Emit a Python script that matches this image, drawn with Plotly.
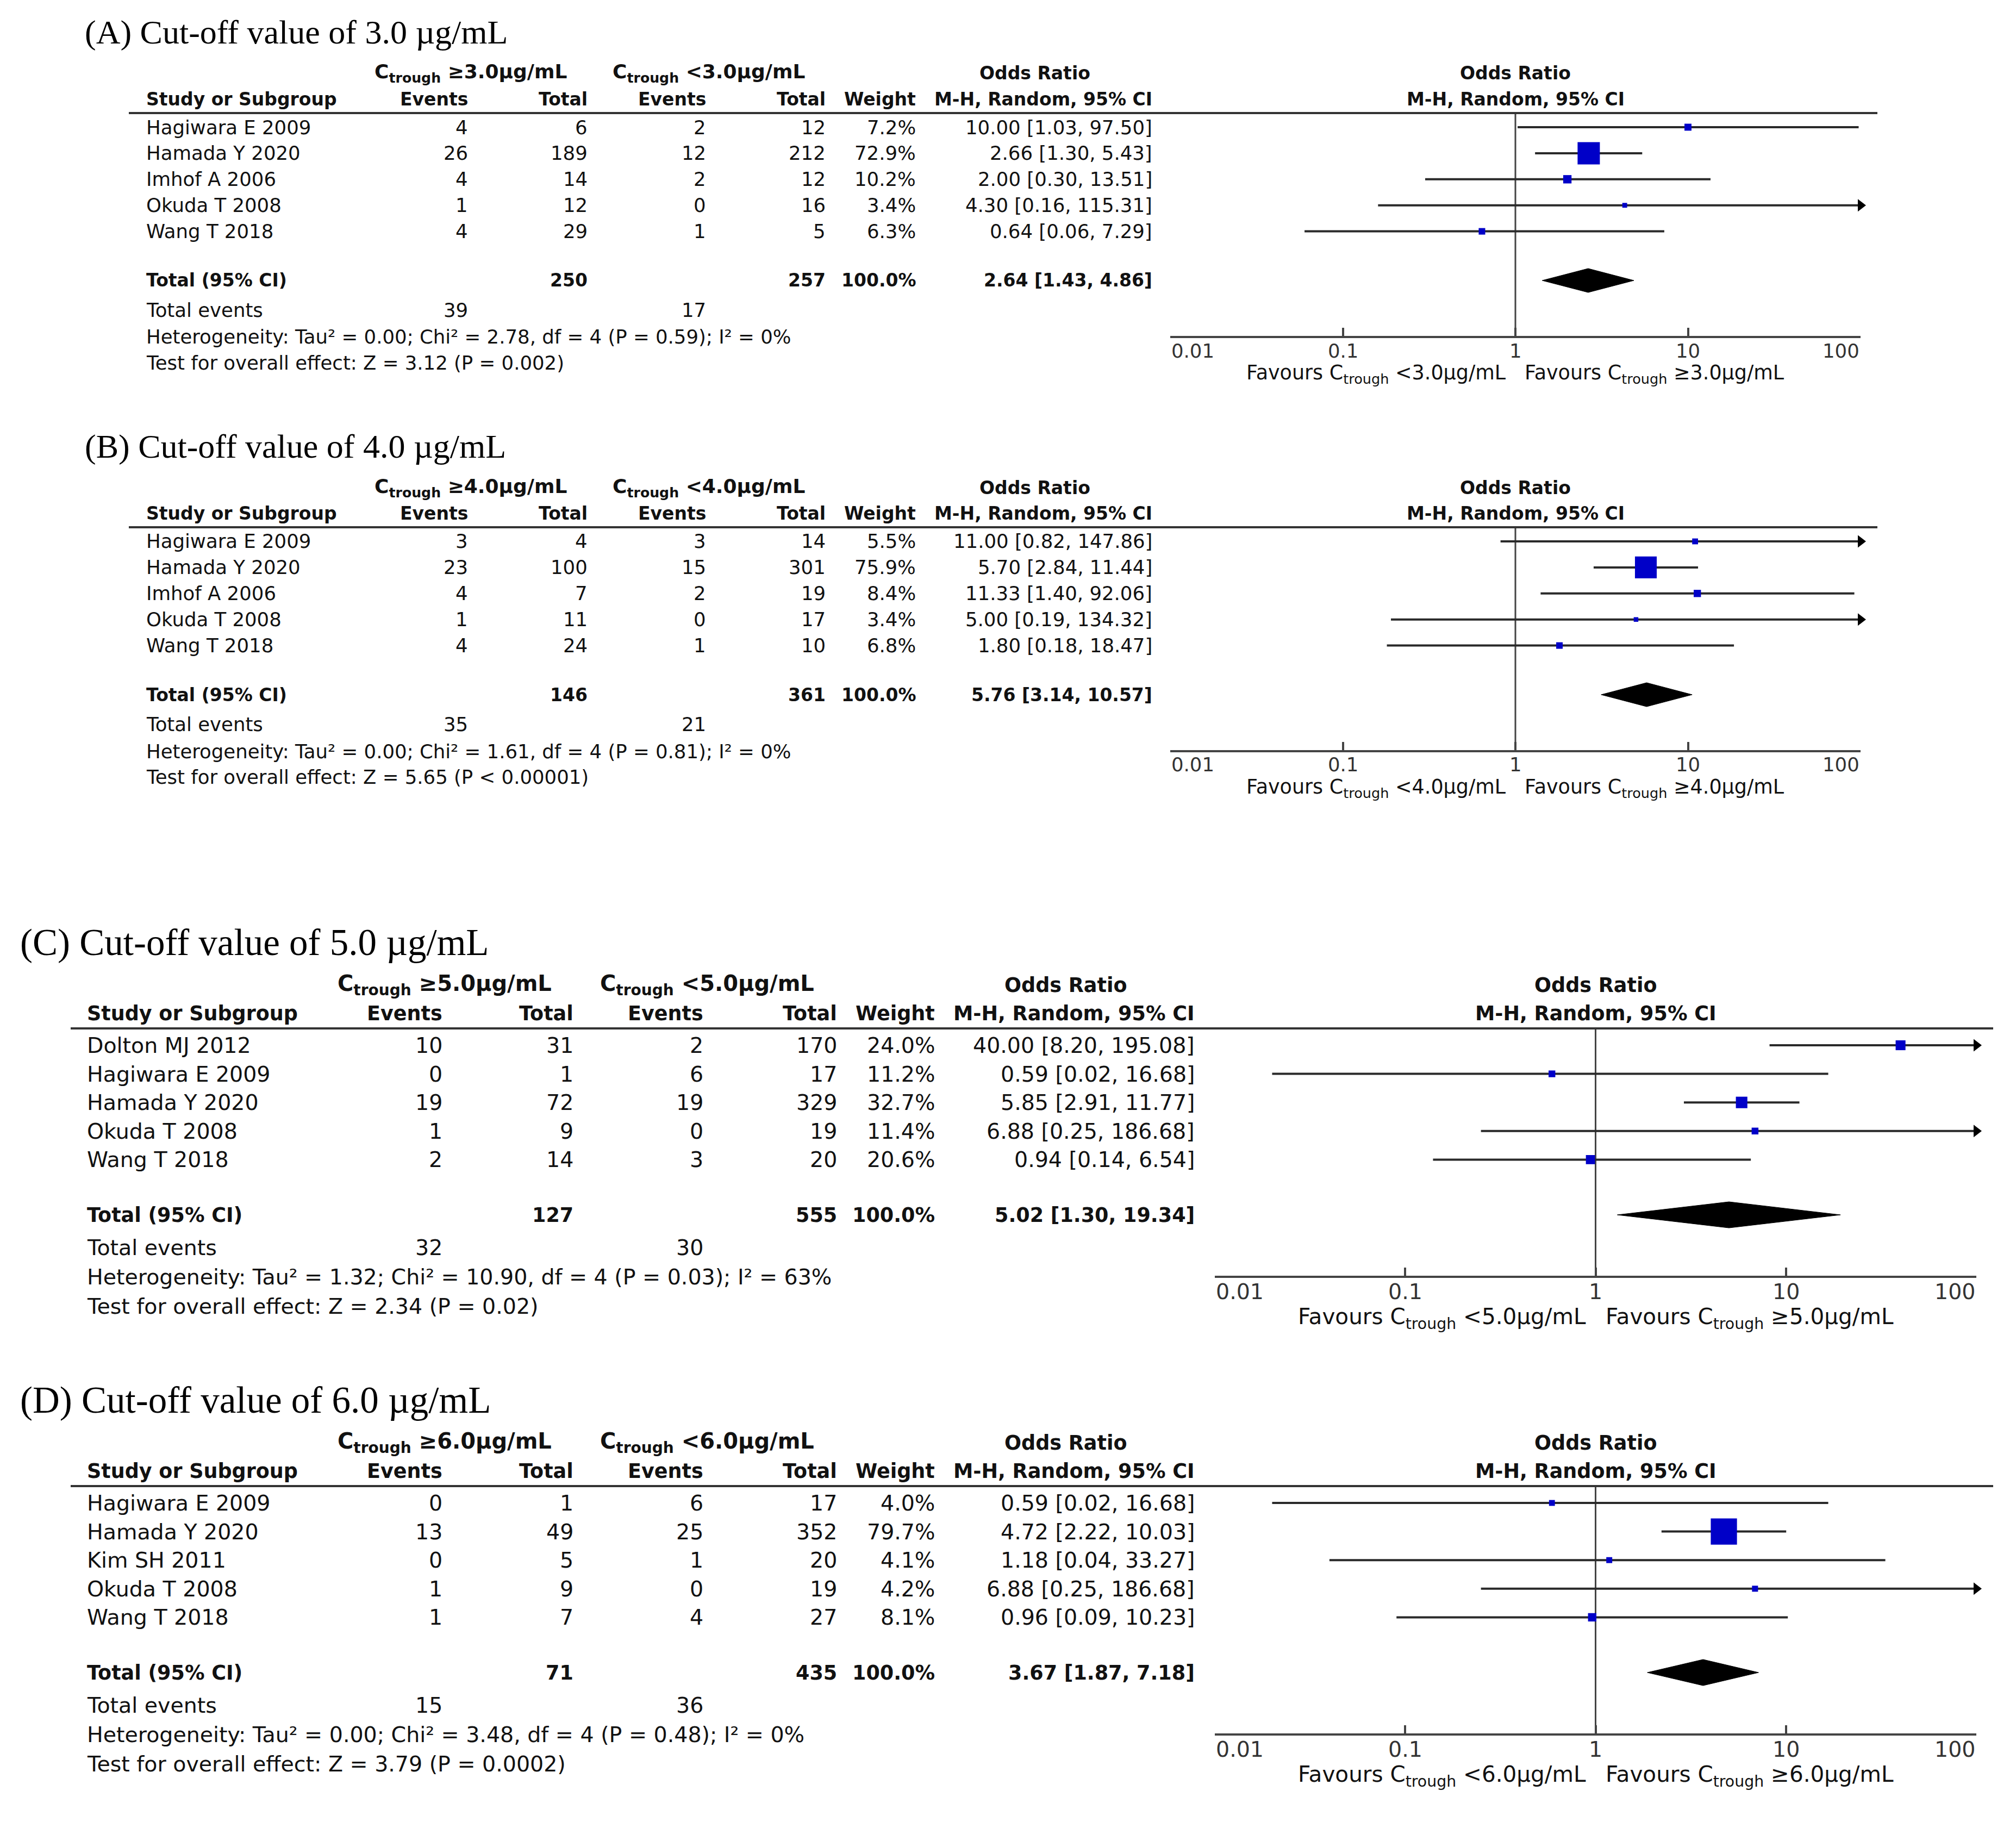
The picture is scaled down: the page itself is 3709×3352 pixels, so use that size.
import math
import plotly.graph_objects as go

# ---------------- data ----------------
panel_letters = ["A", "B", "C", "D"]
cutoffs = ["3.0", "4.0", "5.0", "6.0"]

# (A) cut-off 3.0
studies_A = ["Hagiwara E 2009", "Hamada Y 2020", "Imhof A 2006", "Okuda T 2008", "Wang T 2018"]
ev_hi_A = [4, 26, 4, 1, 4]
tot_hi_A = [6, 189, 14, 12, 29]
ev_lo_A = [2, 12, 2, 0, 1]
tot_lo_A = [12, 212, 12, 16, 5]
weight_A = [7.2, 72.9, 10.2, 3.4, 6.3]
or_A = [10.00, 2.66, 2.00, 4.30, 0.64]
lo_A = [1.03, 1.30, 0.30, 0.16, 0.06]
hi_A = [97.50, 5.43, 13.51, 115.31, 7.29]
total_A = [2.64, 1.43, 4.86]          # OR, lower, upper
total_n_A = [250, 257]
total_ev_A = [39, 17]
het_A = "Heterogeneity: Tau² = 0.00; Chi² = 2.78, df = 4 (P = 0.59); I² = 0%"
test_A = "Test for overall effect: Z = 3.12 (P = 0.002)"

# (B) cut-off 4.0
studies_B = ["Hagiwara E 2009", "Hamada Y 2020", "Imhof A 2006", "Okuda T 2008", "Wang T 2018"]
ev_hi_B = [3, 23, 4, 1, 4]
tot_hi_B = [4, 100, 7, 11, 24]
ev_lo_B = [3, 15, 2, 0, 1]
tot_lo_B = [14, 301, 19, 17, 10]
weight_B = [5.5, 75.9, 8.4, 3.4, 6.8]
or_B = [11.00, 5.70, 11.33, 5.00, 1.80]
lo_B = [0.82, 2.84, 1.40, 0.19, 0.18]
hi_B = [147.86, 11.44, 92.06, 134.32, 18.47]
total_B = [5.76, 3.14, 10.57]
total_n_B = [146, 361]
total_ev_B = [35, 21]
het_B = "Heterogeneity: Tau² = 0.00; Chi² = 1.61, df = 4 (P = 0.81); I² = 0%"
test_B = "Test for overall effect: Z = 5.65 (P &lt; 0.00001)"

# (C) cut-off 5.0
studies_C = ["Dolton MJ 2012", "Hagiwara E 2009", "Hamada Y 2020", "Okuda T 2008", "Wang T 2018"]
ev_hi_C = [10, 0, 19, 1, 2]
tot_hi_C = [31, 1, 72, 9, 14]
ev_lo_C = [2, 6, 19, 0, 3]
tot_lo_C = [170, 17, 329, 19, 20]
weight_C = [24.0, 11.2, 32.7, 11.4, 20.6]
or_C = [40.00, 0.59, 5.85, 6.88, 0.94]
lo_C = [8.20, 0.02, 2.91, 0.25, 0.14]
hi_C = [195.08, 16.68, 11.77, 186.68, 6.54]
total_C = [5.02, 1.30, 19.34]
total_n_C = [127, 555]
total_ev_C = [32, 30]
het_C = "Heterogeneity: Tau² = 1.32; Chi² = 10.90, df = 4 (P = 0.03); I² = 63%"
test_C = "Test for overall effect: Z = 2.34 (P = 0.02)"

# (D) cut-off 6.0
studies_D = ["Hagiwara E 2009", "Hamada Y 2020", "Kim SH 2011", "Okuda T 2008", "Wang T 2018"]
ev_hi_D = [0, 13, 0, 1, 1]
tot_hi_D = [1, 49, 5, 9, 7]
ev_lo_D = [6, 25, 1, 0, 4]
tot_lo_D = [17, 352, 20, 19, 27]
weight_D = [4.0, 79.7, 4.1, 4.2, 8.1]
or_D = [0.59, 4.72, 1.18, 6.88, 0.96]
lo_D = [0.02, 2.22, 0.04, 0.25, 0.09]
hi_D = [16.68, 10.03, 33.27, 186.68, 10.23]
total_D = [3.67, 1.87, 7.18]
total_n_D = [71, 435]
total_ev_D = [15, 36]
het_D = "Heterogeneity: Tau² = 0.00; Chi² = 3.48, df = 4 (P = 0.48); I² = 0%"
test_D = "Test for overall effect: Z = 3.79 (P = 0.0002)"

axis_ticks = [0.01, 0.1, 1, 10, 100]
axis_ticktext = ["0.01", "0.1", "1", "10", "100"]

# ---------------- layout / style ----------------
W, H = 3709, 3352
OFF = 8
WF, HF = W - 2 * OFF, H - 2 * OFF
FONT = "DejaVu Sans"
SERIF = "Liberation Serif"
TXT = "#111111"
BLUE = "#0000C8"
LINE = "#2a2a2a"


def shift(d, dy, **kw):
    out = dict(d)
    for k in ["title_y", "h1", "h2", "rule_y", "row0", "tot_y", "tev_y", "het_y", "test_y",
              "axis_y", "tick_y", "fav_y"]:
        out[k] = d[k] + dy
    out.update(kw)
    return out


LAY_A = dict(title_x=154, title_y=59, h1=135, h2=182, rule_y=208, rule_x0=237, rule_x1=3454,
             row0=234, step=47.9, tot_y=516, tev_y=570, het_y=620, test_y=667,
             c_study=267, c_ev1=863, c_tot1=1083, c_ev2=1301, c_tot2=1521, c_wt=1687, c_ci=2122,
             g1=866, g2=1304, orh=1904, fx0=2153, fx1=3423, axis_y=618, tick_y=645, fav_y=688,
             fav_gap=15, fs=35.5, bfs=33, hfs=36, ffs=36.5, tfs=62, sq=4.8, dh=22)
LAY_B = shift(LAY_A, 762, sq=4.6)
LAY_C = dict(title_x=35, title_y=1734, h1=1812, h2=1864, rule_y=1892, rule_x0=130, rule_x1=3667,
             row0=1923, step=52.6, tot_y=2235, tev_y=2295, het_y=2349, test_y=2403,
             c_study=158, c_ev1=816, c_tot1=1057, c_ev2=1296, c_tot2=1542, c_wt=1722, c_ci=2200,
             g1=818, g2=1301, orh=1961, fx0=2235, fx1=3636, axis_y=2347, tick_y=2376, fav_y=2425,
             fav_gap=16, fs=39.5, bfs=36.5, hfs=40, ffs=40.5, tfs=69, sq=3.7, dh=24)
LAY_D = shift(LAY_C, 842, sq=5.4)

panels = [
    (studies_A, ev_hi_A, tot_hi_A, ev_lo_A, tot_lo_A, weight_A, or_A, lo_A, hi_A, total_A, total_n_A, total_ev_A, het_A, test_A, LAY_A),
    (studies_B, ev_hi_B, tot_hi_B, ev_lo_B, tot_lo_B, weight_B, or_B, lo_B, hi_B, total_B, total_n_B, total_ev_B, het_B, test_B, LAY_B),
    (studies_C, ev_hi_C, tot_hi_C, ev_lo_C, tot_lo_C, weight_C, or_C, lo_C, hi_C, total_C, total_n_C, total_ev_C, het_C, test_C, LAY_C),
    (studies_D, ev_hi_D, tot_hi_D, ev_lo_D, tot_lo_D, weight_D, or_D, lo_D, hi_D, total_D, total_n_D, total_ev_D, het_D, test_D, LAY_D),
]


def fx(x):
    return (x - OFF) / WF


def fy(y):
    return 1 - (y - OFF) / HF


def ann(x, y, text, anchor="left", size=32, bold=False, family=FONT, color=TXT):
    return dict(x=fx(x), y=fy(y), xref="paper", yref="paper",
                text=f"<b>{text}</b>" if bold else text, showarrow=False,
                xanchor=anchor, yanchor="middle",
                font=dict(family=family, size=size, color=color))


fig = go.Figure()
annotations = []
shapes = []
layout_axes = {}

for k, (stud, eh, th, el, tl, wt, orv, lo, hi, tot, totn, totev, het, test, L) in enumerate(panels):
    n = k + 1
    xa = "x" if n == 1 else f"x{n}"
    ya = "y" if n == 1 else f"y{n}"
    fs, bfs, hfs, ffs = L["fs"], L["bfs"], L["hfs"], L["ffs"]
    cut = cutoffs[k]
    rows = [L["row0"] + i * L["step"] for i in range(len(stud))]

    # title
    annotations.append(ann(L["title_x"], L["title_y"],
                           f"({panel_letters[k]}) Cut-off value of {cut} µg/mL",
                           "left", L["tfs"], False, SERIF, "#000"))
    # headers
    annotations.append(ann(L["g1"], L["h1"], f"C<sub>trough</sub> ≥{cut}µg/mL", "center", hfs, True))
    annotations.append(ann(L["g2"], L["h1"], f"C<sub>trough</sub> &lt;{cut}µg/mL", "center", hfs, True))
    annotations.append(ann(L["orh"], L["h1"], "Odds Ratio", "center", bfs, True))
    fc = (L["fx0"] + L["fx1"]) / 2
    annotations.append(ann(fc, L["h1"], "Odds Ratio", "center", bfs, True))
    annotations.append(ann(fc, L["h2"], "M-H, Random, 95% CI", "center", bfs, True))
    annotations.append(ann(L["c_study"], L["h2"], "Study or Subgroup", "left", bfs, True))
    annotations.append(ann(L["c_ev1"], L["h2"], "Events", "right", bfs, True))
    annotations.append(ann(L["c_tot1"], L["h2"], "Total", "right", bfs, True))
    annotations.append(ann(L["c_ev2"], L["h2"], "Events", "right", bfs, True))
    annotations.append(ann(L["c_tot2"], L["h2"], "Total", "right", bfs, True))
    annotations.append(ann(L["c_wt"], L["h2"], "Weight", "right", bfs, True))
    annotations.append(ann(L["c_ci"], L["h2"], "M-H, Random, 95% CI", "right", bfs, True))

    shapes.append(dict(type="line", xref="paper", yref="paper",
                       x0=fx(L["rule_x0"]), x1=fx(L["rule_x1"]),
                       y0=fy(L["rule_y"]), y1=fy(L["rule_y"]),
                       line=dict(color="#333333", width=4)))

    # study rows
    for i, s in enumerate(stud):
        y = rows[i]
        annotations.append(ann(L["c_study"], y, s, "left", fs))
        annotations.append(ann(L["c_ev1"], y, str(eh[i]), "right", fs))
        annotations.append(ann(L["c_tot1"], y, str(th[i]), "right", fs))
        annotations.append(ann(L["c_ev2"], y, str(el[i]), "right", fs))
        annotations.append(ann(L["c_tot2"], y, str(tl[i]), "right", fs))
        annotations.append(ann(L["c_wt"], y, f"{wt[i]:.1f}%", "right", fs))
        annotations.append(ann(L["c_ci"], y, f"{orv[i]:.2f} [{lo[i]:.2f}, {hi[i]:.2f}]", "right", fs))

    # totals
    ty = L["tot_y"]
    annotations.append(ann(L["c_study"], ty, "Total (95% CI)", "left", bfs, True))
    annotations.append(ann(L["c_tot1"], ty, str(totn[0]), "right", bfs, True))
    annotations.append(ann(L["c_tot2"], ty, str(totn[1]), "right", bfs, True))
    annotations.append(ann(L["c_wt"], ty, "100.0%", "right", bfs, True))
    annotations.append(ann(L["c_ci"], ty, f"{tot[0]:.2f} [{tot[1]:.2f}, {tot[2]:.2f}]", "right", bfs, True))
    annotations.append(ann(L["c_study"], L["tev_y"], "Total events", "left", fs))
    annotations.append(ann(L["c_ev1"], L["tev_y"], str(totev[0]), "right", fs))
    annotations.append(ann(L["c_ev2"], L["tev_y"], str(totev[1]), "right", fs))
    annotations.append(ann(L["c_study"], L["het_y"], het, "left", fs))
    annotations.append(ann(L["c_study"], L["test_y"], test, "left", fs))

    # favours labels
    annotations.append(ann(fc - L["fav_gap"], L["fav_y"], f"Favours C<sub>trough</sub> &lt;{cut}µg/mL", "right", ffs))
    annotations.append(ann(fc + L["fav_gap"], L["fav_y"], f"Favours C<sub>trough</sub> ≥{cut}µg/mL", "left", ffs))

    # tick labels placed on the log axis (edge labels aligned inward)
    for j, (tv, tt) in enumerate(zip(axis_ticks, axis_ticktext)):
        anc = "left" if j == 0 else ("right" if j == len(axis_ticks) - 1 else "center")
        annotations.append(dict(x=math.log10(tv), y=fy(L["tick_y"]), xref=xa, yref="paper",
                                text=tt, showarrow=False, xanchor=anc, yanchor="middle",
                                font=dict(family=FONT, size=fs, color="#333333")))

    # lower halves of the crossing tick marks
    tkx, tky = [], []
    for tv in axis_ticks:
        tkx += [tv, tv, None]
        tky += [L["axis_y"], L["axis_y"] + 12, None]
    fig.add_trace(go.Scatter(x=tkx, y=tky, mode="lines", line=dict(color="#444444", width=4),
                             xaxis=xa, yaxis=ya, cliponaxis=False, hoverinfo="skip"))

    # forest: null line
    fig.add_trace(go.Scatter(x=[1, 1], y=[L["rule_y"], L["axis_y"]], mode="lines",
                             line=dict(color="#444444", width=3), xaxis=xa, yaxis=ya,
                             hoverinfo="skip", cliponaxis=False))
    # CI lines
    cx, cy = [], []
    for i in range(len(stud)):
        cx += [max(lo[i], 0.01), min(hi[i], 100), None]
        cy += [rows[i], rows[i], None]
    fig.add_trace(go.Scatter(x=cx, y=cy, mode="lines", line=dict(color=LINE, width=4),
                             xaxis=xa, yaxis=ya, cliponaxis=False))
    # arrows for CIs beyond axis
    ax_x = [100 for i in range(len(stud)) if hi[i] > 100]
    ax_y = [rows[i] for i in range(len(stud)) if hi[i] > 100]
    if ax_x:
        fig.add_trace(go.Scatter(x=ax_x, y=ax_y, mode="markers",
                                 marker=dict(symbol="triangle-right", size=20, color="#000", opacity=1),
                                 xaxis=xa, yaxis=ya, cliponaxis=False))
    # squares
    fig.add_trace(go.Scatter(x=orv, y=rows, mode="markers",
                             marker=dict(symbol="square", color=BLUE, opacity=1,
                                         size=[L["sq"] * math.sqrt(w) for w in wt],
                                         line=dict(width=0)),
                             xaxis=xa, yaxis=ya, cliponaxis=False))
    # diamond
    dh = L["dh"]
    fig.add_trace(go.Scatter(x=[tot[1], tot[0], tot[2], tot[0], tot[1]],
                             y=[ty, ty - dh, ty, ty + dh, ty], mode="lines", fill="toself",
                             fillcolor="#000", line=dict(color="#000", width=1),
                             xaxis=xa, yaxis=ya, cliponaxis=False))

    layout_axes["xaxis" if n == 1 else f"xaxis{n}"] = dict(
        type="log", range=[-2, 2], domain=[fx(L["fx0"]), fx(L["fx1"])], anchor=ya,
        tickvals=axis_ticks, showticklabels=False, ticks="inside", ticklen=15, tickwidth=4,
        tickcolor="#444444", showline=True, linecolor="#444444", linewidth=4,
        showgrid=False, zeroline=False, fixedrange=True)
    layout_axes["yaxis" if n == 1 else f"yaxis{n}"] = dict(
        domain=[fy(L["axis_y"]), fy(L["rule_y"])], range=[L["axis_y"], L["rule_y"]],
        visible=False, anchor=xa, fixedrange=True)

fig.update_layout(
    width=WF, height=HF, margin=dict(l=0, r=0, t=0, b=0),
    paper_bgcolor="white", plot_bgcolor="white", showlegend=False,
    annotations=annotations, shapes=shapes, **layout_axes)

fig.write_html("out.html")
